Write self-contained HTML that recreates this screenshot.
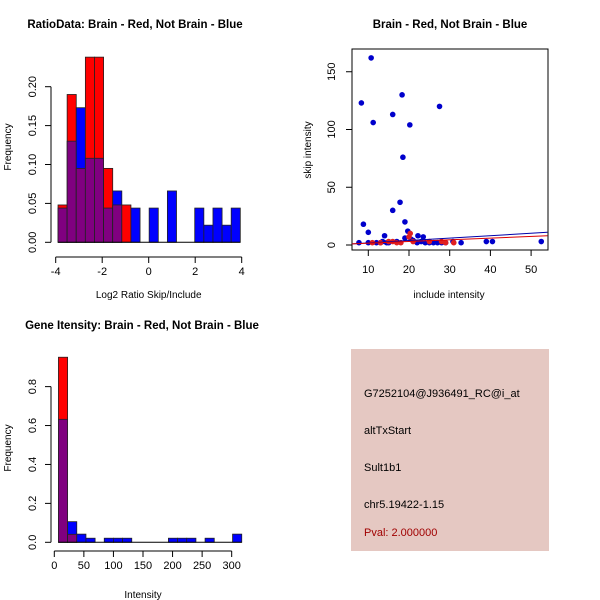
<!DOCTYPE html>
<html><head><meta charset="utf-8"><style>
html,body{margin:0;padding:0;background:#fff}
svg{display:block;font-family:"Liberation Sans",Arial,sans-serif}
</style></head><body>
<svg id="s" width="600" height="600" viewBox="0 0 600 600">
<rect width="600" height="600" fill="#fff"/>
<g id="p1"></g>
<g id="p2"></g>
<g id="p3"></g>
<g font-size="11">
<rect x="351" y="349" width="198" height="202" fill="#e5c8c2"/>
<text x="364" y="397">G7252104@J936491_RC@i_at</text>
<text x="364" y="434">altTxStart</text>
<text x="364" y="471">Sult1b1</text>
<text x="364" y="508">chr5.19422-1.15</text>
<text x="364" y="536" fill="#a00000">Pval: 2.000000</text>
</g>
</svg>
<script>
// ---- Panel 1 data ----
const ratioBinStart = -3.9, ratioBinWidth = 0.392;
const ratioRed  = [0.048,0.19,0.095,0.238,0.238,0.095,0.048,0.048,0,0,0,0,0,0,0,0,0,0,0,0];
const ratioBlue = [0.044,0.13,0.173,0.108,0.108,0.044,0.066,0,0.044,0,0.044,0,0.066,0,0,0.044,0.022,0.044,0.022,0.044];
const ratioXTicks = [-4,-2,0,2,4];
const ratioYTicks = ["0.00","0.05","0.10","0.15","0.20"];
// ---- Panel 2 data ----
const blueX = [7.7,8.3,8.8,10,10,10.7,11.2,12,13,13.5,14,14.5,15,16,16,17,17.8,18.3,18.5,19,19,19.7,20.2,20.5,21,22,22.2,23,23.5,24,25,26,27,27.5,28,29,30.8,32.8,39,40.5,52.5];
const blueY = [2,123,18,11,2,162,106,2,2,3,8,2,2,30,113,3,37,130,76,20,6,12,104,5,4,2,8,3,7,2,2,2,2,120,2,2,3,2,3,3,3];
const redX = [11,13,15,16,17,18,20,20.3,21,25,28,29,31];
const redY = [2,2,3,3,2,2,7,10,3,3,3,2,2];
const blueFit = [[6,1],[54,11]];
const redFit = [[6,1],[54,8]];
const scatXTicks = [10,20,30,40,50];
const scatYTicks = [0,50,100,150];
// ---- Panel 3 data ----
const intBinStart = 7, intBinWidth = 15.5;
const intRed  = [0.951,0.041,0,0,0,0,0,0,0,0,0,0,0,0,0,0,0,0,0,0];
const intBlue = [0.632,0.106,0.042,0.021,0,0.021,0.021,0.021,0,0,0,0,0.021,0.021,0.021,0,0.021,0,0,0.042];
const intXTicks = [0,50,100,150,200,250,300];
const intYTicks = ["0.0","0.2","0.4","0.6","0.8"];

const NS="http://www.w3.org/2000/svg";
function mk(p,tag,a,txt){const e=document.createElementNS(NS,tag);for(const k in a)e.setAttribute(k,a[k]);if(txt!==undefined)e.textContent=txt;p.appendChild(e);return e;}

function hist(g,o){
  const {sx,sy,start,w,red,blue,xt,yt,ytv,axY,axX,title,tx,xlab,xlaby,ylaby}=o;
  for(let i=0;i<red.length;i++){
    const x0=sx(start+i*w),x1=sx(start+(i+1)*w);
    const r=red[i],b=blue[i],mx=Math.max(r,b),mn=Math.min(r,b);
    if(mx>0){
      const e=mk(g,'rect',{x:x0,y:sy(mx),width:x1-x0,height:sy(0)-sy(mx),fill:r>=b?'#ff0000':'#0000ff',stroke:'#222','stroke-width':0.8});
      
      
    }
    if(mn>0){
      const e=mk(g,'rect',{x:x0,y:sy(mn),width:x1-x0,height:sy(0)-sy(mn),fill:'#800080',stroke:'#222','stroke-width':0.8});
      
      
    }
  }
  const base=mk(g,'line',{x1:sx(start),x2:sx(start+red.length*w),y1:sy(0),y2:sy(0),stroke:'#000'});
  
  
  const ya=mk(g,'line',{x1:axX,x2:axX,y1:sy(0),y2:sy(ytv[ytv.length-1]),stroke:'#000'});
  
  
  ytv.forEach((v,i)=>{
    mk(g,'line',{x1:axX-6,x2:axX,y1:sy(v),y2:sy(v),stroke:'#000'});
    const t=mk(g,'text',{x:0,y:0,'font-size':11,'text-anchor':'middle',transform:`translate(${axX-15},${sy(v)}) rotate(-90)`},yt[i]);
    
    
  });
  const xa=mk(g,'line',{x1:sx(xt[0]),x2:sx(xt[xt.length-1]),y1:axY,y2:axY,stroke:'#000'});
  
  
  xt.forEach(v=>{
    mk(g,'line',{x1:sx(v),x2:sx(v),y1:axY,y2:axY+6,stroke:'#000'});
    const t=mk(g,'text',{x:sx(v),y:axY+18,'font-size':11,'text-anchor':'middle'},String(v));
    
    
  });
  const tt=mk(g,'text',{x:tx,y:o.ty,'font-size':11.5,'font-weight':'bold','text-anchor':'middle'},title);
  
  
  const xl=mk(g,'text',{x:(sx(xt[0])+sx(xt[xt.length-1]))/2,y:xlaby,'font-size':10,'text-anchor':'middle'},xlab);
  
  
  const yl=mk(g,'text',{x:0,y:0,'font-size':10,'text-anchor':'middle',transform:`translate(11,${ylaby}) rotate(-90)`},'Frequency');
  
  
}

// Panel 1
hist(document.getElementById('p1'),{
  sx:v=>55.7+(v+4)*23.25, sy:v=>242.3-v*778,
  start:ratioBinStart,w:ratioBinWidth,red:ratioRed,blue:ratioBlue,
  xt:ratioXTicks,yt:ratioYTicks,ytv:[0,0.05,0.1,0.15,0.2],axY:257,axX:51,
  title:'RatioData: Brain - Red, Not Brain - Blue',tx:135,ty:28,
  xlab:'Log2 Ratio Skip/Include',xlaby:298,ylaby:147});

// Panel 3
hist(document.getElementById('p3'),{
  sx:v=>54.3+v*0.5913, sy:v=>542.3-v*194.6,
  start:intBinStart,w:intBinWidth,red:intRed,blue:intBlue,
  xt:intXTicks,yt:intYTicks,ytv:[0,0.2,0.4,0.6,0.8],axY:551,axX:51,
  title:'Gene Itensity: Brain - Red, Not Brain - Blue',tx:142,ty:329,
  xlab:'Intensity',xlaby:598,ylaby:448});

// Panel 2
(function(){
  const g=document.getElementById('p2');
  const sx=v=>368.3+(v-10)*4.07, sy=v=>245-v*1.155;
  const box=mk(g,'rect',{x:352,y:49,width:196,height:201,fill:'none',stroke:'#000'});
  
  
  scatXTicks.forEach(v=>{
    mk(g,'line',{x1:sx(v),x2:sx(v),y1:250,y2:256,stroke:'#000'});
    const t=mk(g,'text',{x:sx(v),y:273,'font-size':11,'text-anchor':'middle'},String(v));
    
    
  });
  scatYTicks.forEach(v=>{
    mk(g,'line',{x1:346,x2:352,y1:sy(v),y2:sy(v),stroke:'#000'});
    const t=mk(g,'text',{x:0,y:0,'font-size':11,'text-anchor':'middle',transform:`translate(335,${sy(v)}) rotate(-90)`},String(v));
    
    
  });
  blueX.forEach((x,i)=>{
    const c=mk(g,'circle',{cx:sx(x),cy:sy(blueY[i]),r:2.8,fill:'#0000cc'});
    
    
  });
  redX.forEach((x,i)=>{
    const c=mk(g,'circle',{cx:sx(x),cy:sy(redY[i]),r:2.8,fill:'#e02020'});
    
    
  });
  const bl=mk(g,'line',{x1:sx(blueFit[0][0]),y1:sy(blueFit[0][1]),x2:sx(blueFit[1][0]),y2:sy(blueFit[1][1]),stroke:'#0000aa'});
  
  
  const rl=mk(g,'line',{x1:sx(redFit[0][0]),y1:sy(redFit[0][1]),x2:sx(redFit[1][0]),y2:sy(redFit[1][1]),stroke:'#dd0000'});
  
  
  const tt=mk(g,'text',{x:450,y:28,'font-size':11.5,'font-weight':'bold','text-anchor':'middle'},'Brain - Red, Not Brain - Blue');
  
  
  const xl=mk(g,'text',{x:449,y:298,'font-size':10,'text-anchor':'middle'},'include intensity');
  
  
  const yl=mk(g,'text',{x:0,y:0,'font-size':10,'text-anchor':'middle',transform:'translate(311,150) rotate(-90)'},'skip intensity');
  
  
})();
</script>
</body></html>
